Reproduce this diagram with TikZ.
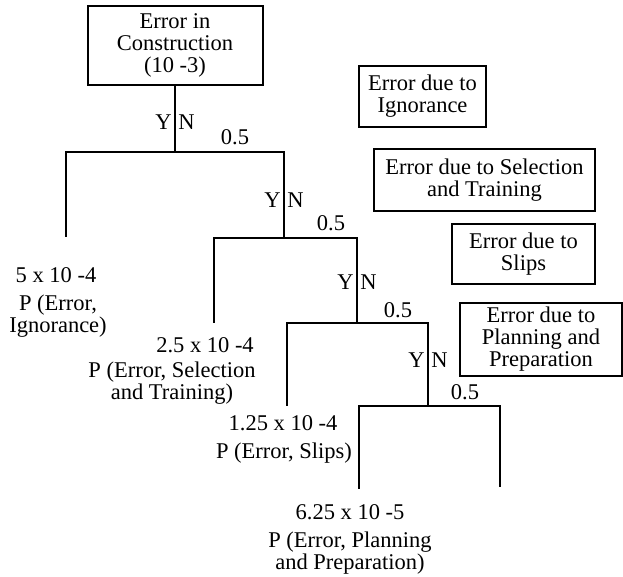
\documentclass[tikz,border=0pt]{standalone}
\usepackage{fontspec}
\setmainfont{Liberation Serif}
\usetikzlibrary{positioning}
\tikzstyle{box} = [rectangle,draw,line width=1pt,align=center,inner sep=0pt]
\tikzstyle{leaf} = [align=center,inner sep=0pt]
\tikzstyle{branch} = [line width=1pt]
\newcommand{\yesNo}[2]{
	\node[anchor=east,inner sep=1.5pt] (#1Y) at #2 {Y};
	\node[anchor=west,inner sep=1.5pt] (#1N) at #2 {N};
}

\begin{document}
\begin{tikzpicture}[x=0.5pt,y=-0.5pt,font=\fontsize{11.25}{11}\selectfont]
	\useasboundingbox (0,0) rectangle (623,577);
	\node[box,minimum width=87.5pt,minimum height=39.5pt] (root) at (175,45.5) {Error in\\Construction\\(10 -3)};
	% the tree
	\coordinate (j1) at (175,152);
	\coordinate (l1) at (66,152);
	\coordinate (r1) at (284,152);
	\coordinate (a1) at (66,237);
	\coordinate (j2) at (284,238);
	\coordinate (l2) at (214,238);
	\coordinate (r2) at (357,238);
	\coordinate (a2) at (214,323);
	\coordinate (j3) at (357,323);
	\coordinate (l3) at (287,323);
	\coordinate (r3) at (428,323);
	\coordinate (a3) at (287,406);
	\coordinate (j4) at (428,406);
	\coordinate (l4) at (359,406);
	\coordinate (r4) at (500,406);
	\coordinate (a4) at (359,489);
	\coordinate (a5) at (500,487);
	\draw[branch] (root.south) -- (j1);
	\draw[branch] (a1) -- (l1) -- (r1) -- (j2);
	\draw[branch] (a2) -- (l2) -- (r2) -- (j3);
	\draw[branch] (a3) -- (l3) -- (r3) -- (j4);
	\draw[branch] (a4) -- (l4) -- (r4) -- (a5);
	\yesNo{yn1}{(175,122)}
	\yesNo{yn2}{(284,200)}
	\yesNo{yn3}{(357,282)}
	\yesNo{yn4}{(428,360)}
	\node (p1) at (235,137) {0.5};
	\node (p2) at (331,223) {0.5};
	\node (p3) at (398,310) {0.5};
	\node (p4) at (465,392) {0.5};
	% leaves
	\node[leaf] (n1) at (56,275) {5 x 10 -4};
	\node[leaf] (t1) at (58,316) {P (Error,\\Ignorance)};
	\node[leaf] (n2) at (205,345) {2.5 x 10 -4};
	\node[leaf] (t2) at (172,383) {P (Error, Selection\\and Training)};
	\node[leaf] (n3) at (283,423) {1.25 x 10 -4};
	\node[leaf] (t3) at (284,453) {P (Error, Slips)};
	\node[leaf] (n4) at (350,512) {6.25 x 10 -5};
	\node[leaf] (t4) at (350,553) {P (Error, Planning\\and Preparation)};
	% causes
	\node[box,minimum width=63.5pt,minimum height=30.5pt] (ignorance) at (422.5,96.5) {Error due to\\Ignorance};
	\node[box,minimum width=110.5pt,minimum height=31pt] (selection) at (484.5,180) {Error due to Selection\\and Training};
	\node[box,minimum width=71.5pt,minimum height=30pt] (slips) at (523.5,254) {Error due to\\Slips};
	\node[box,minimum width=81pt,minimum height=36.5pt] (planning) at (541,339.5) {Error due to\\Planning and\\Preparation};
\end{tikzpicture}
\end{document}
